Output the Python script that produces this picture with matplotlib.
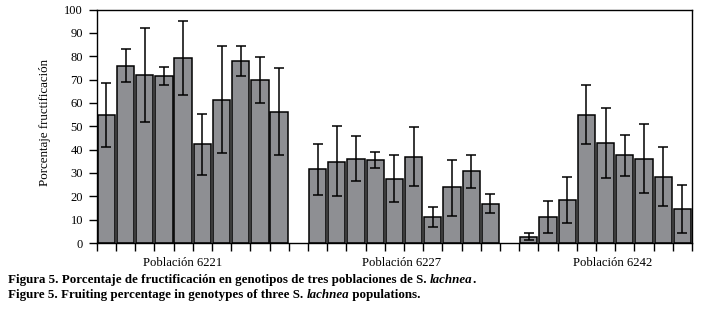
import matplotlib
matplotlib.use("Agg")
import matplotlib.pyplot as plt
import numpy as np

# ---- data ----
populations = ["Población 6221", "Población 6227", "Población 6242"]
pop_6221 = [54.7, 75.6, 71.8, 71.4, 79.1, 42.3, 61.3, 77.8, 69.7, 56.0]
pop_6221_hi = [68.4, 82.9, 91.9, 75.2, 94.9, 55.1, 84.2, 84.2, 79.8, 74.8]
pop_6221_lo = [41.0, 68.8, 51.7, 67.5, 63.2, 29.1, 38.5, 71.4, 59.8, 37.6]

pop_6227 = [31.6, 34.6, 35.9, 35.5, 27.4, 36.8, 11.1, 23.9, 30.8, 16.7]
pop_6227_hi = [42.3, 50.0, 45.7, 38.9, 37.6, 49.6, 15.4, 35.5, 37.6, 20.9]
pop_6227_lo = [20.5, 20.1, 26.5, 32.1, 17.5, 24.4, 6.8, 11.5, 23.5, 12.8]

pop_6242 = [2.6, 11.1, 18.4, 54.7, 42.7, 37.6, 35.9, 28.2, 14.5]
pop_6242_hi = [4.3, 17.9, 28.2, 67.5, 57.7, 46.2, 50.9, 41.0, 24.8]
pop_6242_lo = [1.3, 4.3, 8.5, 42.3, 27.8, 28.6, 21.4, 15.8, 4.3]

yticks = [0, 10, 20, 30, 40, 50, 60, 70, 80, 90, 100]
ylabel = "Porcentaje fructificación"

plt.rcParams['font.family'] = ['Liberation Serif', 'DejaVu Serif']

fig = plt.figure(figsize=(7.01, 3.10), dpi=100)
ax = fig.add_axes([96.7 / 701, 1 - 243 / 310, (692 - 96.7) / 701, (243 - 9.5) / 310])

groups = [(pop_6221, pop_6221_lo, pop_6221_hi),
          (pop_6227, pop_6227_lo, pop_6227_hi),
          (pop_6242, pop_6242_lo, pop_6242_hi)]

start = 0
centers = []
for vals, lo, hi in groups:
    vals = np.array(vals); lo = np.array(lo); hi = np.array(hi)
    x = np.arange(start, start + len(vals))
    ax.bar(x, vals, width=0.9, color='#8e8f93', edgecolor='black', linewidth=1.1, zorder=2)
    ax.errorbar(x, vals, yerr=[vals - lo, hi - vals], fmt='none', ecolor='black',
                elinewidth=1.1, capsize=3.8, capthick=1.1, zorder=3)
    centers.append(x.mean())
    start += len(vals) + 1

n_slots = start - 1
ax.set_xlim(-0.5, n_slots - 0.5)
ax.set_ylim(0, 100)
ax.set_yticks(yticks)
ax.set_xticks(np.arange(-0.5, n_slots, 1.0))
ax.set_xticklabels([])
ax.tick_params(axis='y', direction='out', length=5.8, width=1.0, pad=4, labelsize=9.0)
ax.tick_params(axis='x', direction='out', length=5.5, width=1.0)
for s in ax.spines.values():
    s.set_linewidth(1.0)

label_offsets = [-0.55, -0.15, 0.35]
for c, name, off in zip(centers, populations, label_offsets):
    ax.text(c + off, -6.0, name, ha='center', va='top', fontsize=9.2,
            transform=ax.transData)

fig.text(45 / 701, 1 - 123 / 310, ylabel, rotation=90, ha='center', va='center', fontsize=9.4)

# caption
renderer = fig.canvas.get_renderer()

def caption_line(parts, x0, y):
    x = x0
    for txt, style in parts:
        t = fig.text(x / 701, 1 - y / 310, txt, fontsize=9.4, fontweight='bold',
                     fontstyle=style, ha='left', va='baseline')
        bb = t.get_window_extent(renderer=renderer)
        x += bb.width

caption_line([("Figura 5. Porcentaje de fructificación en genotipos de tres poblaciones de S. ", 'normal'),
              ("lachnea", 'italic'), (".", 'normal')], 8, 283)
caption_line([("Figure 5. Fruiting percentage in genotypes of three S. ", 'normal'),
              ("lachnea", 'italic'), (" populations.", 'normal')], 8, 298)

fig.savefig("out.png", dpi=100)
